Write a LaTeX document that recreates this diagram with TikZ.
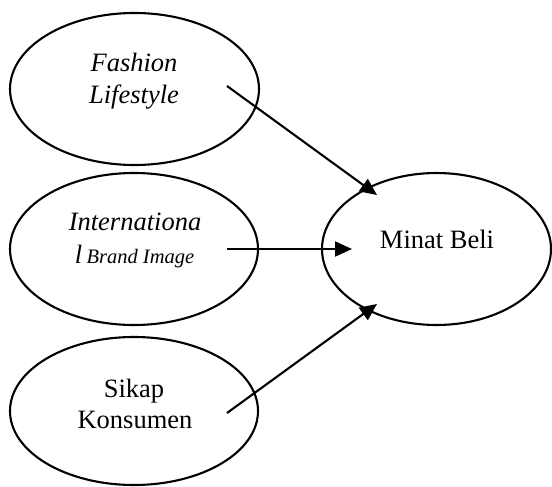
\documentclass[tikz,border=0pt]{standalone}
\usepackage{fontspec}
\setmainfont{Liberation Serif}
\usetikzlibrary{shapes.geometric,arrows.meta}
\begin{document}
\begin{tikzpicture}[x=1pt,y=-1pt,
  oval/.style={draw=black,line width=2.1pt,ellipse,inner sep=0pt},
  lbl/.style={anchor=base,inner sep=0pt,font=\fontsize{26.5}{30}\selectfont},
  conn/.style={line width=2.1pt,-{Triangle[length=17pt,width=15pt]}}]
\useasboundingbox (0,0) rectangle (552,487);
\node[oval,minimum width=249pt,minimum height=152pt] (e1) at (134.5,89) {};
\node[oval,minimum width=248pt,minimum height=152pt] (e2) at (134,249) {};
\node[oval,minimum width=248pt,minimum height=148pt] (e3) at (134,411) {};
\node[oval,minimum width=229pt,minimum height=152pt] (e4) at (436.5,249) {};
\node[lbl] (t1a) at (134,72) {\itshape Fashion};
\node[lbl] (t1b) at (134,103) {\itshape Lifestyle};
\node[lbl] (t2a) at (135,230) {\itshape Internationa};
\node[lbl] (t2b) at (134.5,263) {\itshape l\,{\fontsize{20.5}{24}\selectfont Brand Image}};
\node[lbl] (t3a) at (134,397) {Sikap};
\node[lbl] (t3b) at (135,428) {Konsumen};
\node[lbl] (t4) at (437,248) {Minat Beli};
\coordinate (s1) at (227,86);
\coordinate (h1) at (377,195);
\coordinate (s2) at (227,249);
\coordinate (h2) at (352,249);
\coordinate (s3) at (227,413);
\coordinate (h3) at (377,304);
\draw[conn] (s1) -- (h1);
\draw[conn] (s2) -- (h2);
\draw[conn] (s3) -- (h3);
\end{tikzpicture}
\end{document}
